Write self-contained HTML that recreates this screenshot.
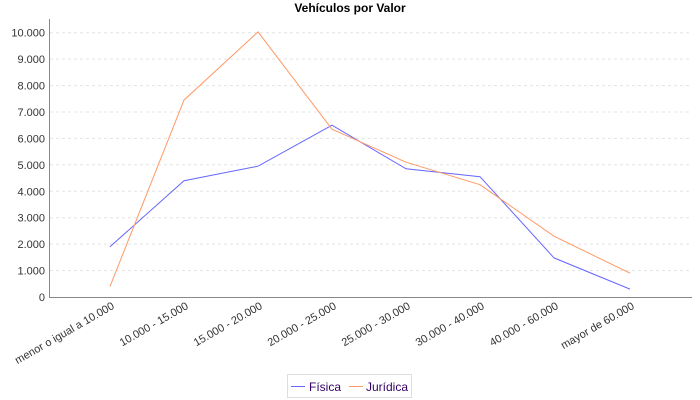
<!DOCTYPE html>
<html><head><meta charset="utf-8"><style>body{margin:0;background:#fff}svg{display:block}</style></head><body>
<svg width="700" height="400" xmlns="http://www.w3.org/2000/svg" font-family="Liberation Sans, sans-serif">
<rect width="700" height="400" fill="#fff"/>
<text x="350" y="12" text-anchor="middle" font-size="12" font-weight="bold">Vehículos por Valor</text>
<g stroke="#e4e4e4" stroke-dasharray="3,3" stroke-width="1">
<line x1="50" x2="692" y1="270.6" y2="270.6"/><line x1="50" x2="692" y1="244.1" y2="244.1"/><line x1="50" x2="692" y1="217.7" y2="217.7"/><line x1="50" x2="692" y1="191.3" y2="191.3"/><line x1="50" x2="692" y1="164.8" y2="164.8"/><line x1="50" x2="692" y1="138.4" y2="138.4"/><line x1="50" x2="692" y1="112" y2="112"/><line x1="50" x2="692" y1="85.6" y2="85.6"/><line x1="50" x2="692" y1="59.1" y2="59.1"/><line x1="50" x2="692" y1="32.7" y2="32.7"/>
</g>
<line x1="49.5" y1="19" x2="49.5" y2="297" stroke="#888"/>
<line x1="49" y1="297.5" x2="692" y2="297.5" stroke="#888"/>
<g font-size="11" text-anchor="end" fill="#333">
<text x="45" y="301">0</text><text x="45" y="274.6">1.000</text><text x="45" y="248.1">2.000</text><text x="45" y="221.7">3.000</text><text x="45" y="195.3">4.000</text><text x="45" y="168.8">5.000</text><text x="45" y="142.4">6.000</text><text x="45" y="116">7.000</text><text x="45" y="89.6">8.000</text><text x="45" y="63.1">9.000</text><text x="45" y="36.7">10.000</text>
</g>
<g font-size="11" text-anchor="end" fill="#333">
<text transform="translate(115,308) rotate(-30)">menor o igual a 10.000</text>
<text transform="translate(189,308) rotate(-30)">10.000 - 15.000</text>
<text transform="translate(263,308) rotate(-30)">15.000 - 20.000</text>
<text transform="translate(337,308) rotate(-30)">20.000 - 25.000</text>
<text transform="translate(411,308) rotate(-30)">25.000 - 30.000</text>
<text transform="translate(485,308) rotate(-30)">30.000 - 40.000</text>
<text transform="translate(559,308) rotate(-30)">40.000 - 60.000</text>
<text transform="translate(635,308) rotate(-30)">mayor de 60.000</text>
</g>
<polyline fill="none" stroke="#6666ff" stroke-width="1" points="110,246.8 184,180.7 258,166.2 332,125.2 406,168.8 480,176.7 554,257.9 630,289.1"/>
<polyline fill="none" stroke="#ff9966" stroke-width="1" points="110,286.4 184,100.1 258,31.9 332,129.2 406,162.2 480,184.7 554,236.2 630,273.2"/>
<rect x="287.5" y="374.5" width="124" height="23" fill="#fff" stroke="#ddd"/>
<line x1="291" y1="386.5" x2="305" y2="386.5" stroke="#6666ff"/>
<text x="309" y="391" font-size="12" fill="#330066">Física</text>
<line x1="349" y1="386.5" x2="363" y2="386.5" stroke="#ff9966"/>
<text x="366" y="391" font-size="12" fill="#330066">Jurídica</text>
</svg>
</body></html>
